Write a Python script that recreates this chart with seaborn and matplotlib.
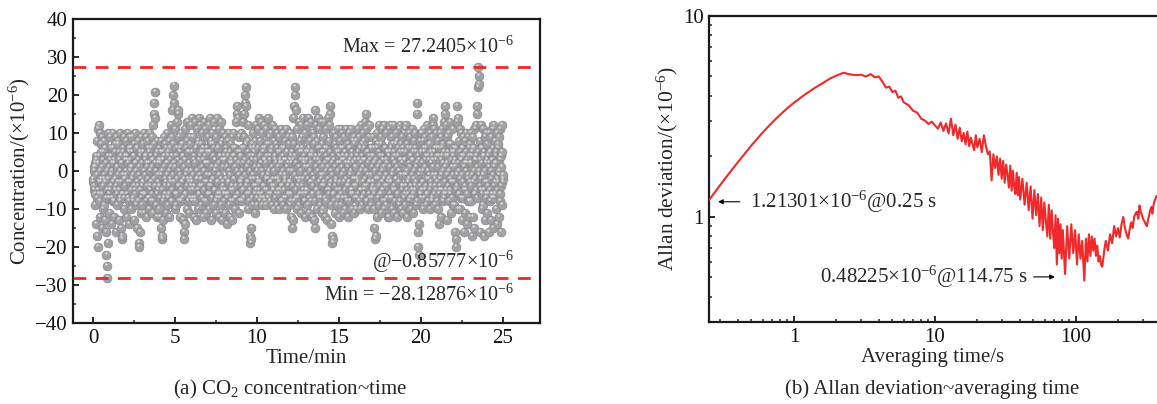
import numpy as np
import pandas as pd
import matplotlib
matplotlib.use("Agg")
import matplotlib.pyplot as plt
import seaborn as sns
from matplotlib.ticker import MultipleLocator, LogLocator, FuncFormatter, NullFormatter

# ---------------- data: panel (a) concentration vs time ----------------
# odd samples (wide swings) and even samples (core) for each minute
conc_rows_a = [
    [-3, 1, -5, 2, -9, 4, -14, 8, -17, -20, 11, 12, -6, 10, -12, 7, -3, 9, -15, 5, -10, 8, -2, -13, 6, -16, -22, -25, -28.12876, -19, 10, -7],
    [-11, 9, -4, 6, -14, 2, 10, -8, 3, -12, 7, -5, 9, -16, 1, -9, 8, -3, 5, -13, 10, -7, 2, -15, -18, -17, 6, -6, 9, -10, 4, -2],
    [8, -12, 3, 10, -7, 5, -14, 9, -3, 6, -10, 1, 9, -8, 4, -13, 7, -5, 10, -9, 2, -15, 6, -4, 8, -19, -20, -16, 5, -11, 9, -6],
    [-9, 7, -3, 10, -11, 4, -6, 9, -12, 2, 8, -7, 5, -10, 10, -4, 6, -8, 3, 9, -11, 12, 15, 18, 20.7, 14, -9, 4, -12, 8, -5, 2],
    [-10, 6, -12, 3, 8, -15, -18, -17, -13, 5, -7, 9, -4, 7, -11, 2, 10, -9, 4, -6, 8, -12, 6, -3, 12, 9, -8, 16, 20, 22.5, 18, -10],
    [11, -9, 4, 13, -6, 15, 16, -4, 9, -12, 6, -8, 10, -3, 7, -13, 4, -16, -18, -14, 11, -6, 8, -10, 13, -2, 5, -11, 9, -7, 12, -4],
    [-8, 14, -5, 9, -12, 3, 13, -7, 6, -13, 11, -2, 8, -10, 14, -6, 4, 12, -9, 7, -4, 10, -12, 5, 13, -8, 2, 11, -11, 6, -3, 9],
    [-6, 12, -10, 5, 14, -4, 8, -13, 10, -2, 7, -9, 13, -5, 3, -11, 9, -7, 14, -3, 6, -12, 11, -6, 4, -9, 13, -13, 8, -4, 10, -8],
    [3, -11, 9, -6, 5, -14, 8, -3, 10, -9, 2, -12, 7, -5, 9, -13, 4, -8, 10, -2, -10, 6, -7, 13, 15, 17, 14, -6, 9, -11, 5, -3],
    [-4, 10, -8, 6, 13, -5, 9, 15, 18, 20, 22, 17, -3, 8, -10, 12, -6, 4, -17, -19, -18, -15, 7, -9, 10, -2, 5, -11, 8, -4, 12, -7],
    [-9, 11, -3, 14, -6, 8, -8, 13, 2, -9, 10, -4, 6, 12, -7, 3, -5, 11, -9, 7, -2, 14, -6, 9, -8, 4, 10, -3, 6, -9, 12, -5],
    [8, -10, 3, 11, -6, 7, -9, 10, -2, 5, -10, 9, -5, 2, 11, -8, 6, -4, 10, -9, 3, -7, 8, -1, 11, -10, 5, -6, 9, -3, 7, -9],
    [10, -8, 4, -12, 9, -15, -13, 14, 17, 20, 22, 16, -7, 11, -10, 6, -4, 13, -9, 8, -2, 12, -11, 5, 9, -6, 14, -8, 3, -12, 10, -5],
    [-6, 12, -9, 5, 14, -11, 8, -3, 13, -8, 4, -12, 10, -6, 9, -13, -15, 16, 12, -5, 8, -10, 3, 14, -7, 11, -9, 6, -2, 13, -11, 7],
    [-10, 9, -4, 13, -12, 6, 11, -8, 3, -13, 14, -5, 8, 12, 15, 17, -9, -14, -17, -19, -18, 10, -6, 7, -11, 9, -3, 5, -9, 11, -7, 4],
    [-12, 8, -5, 11, -9, 3, 10, -11, 6, -3, 9, -10, 5, -7, 11, -4, 7, -12, 2, 10, -8, 6, -5, 11, -10, 4, 8, -6, 9, -11, 3, -2],
    [8, -10, 4, -7, 11, -3, 9, -8, 6, -10, 12, -5, 7, -9, 3, 10, -6, 8, -4, 13, 15, 11, -8, 5, -10, 9, -3, 12, -7, 6, -9, 4],
    [-7, 9, -4, 6, -10, -15, -18, -17, 8, -12, 10, -2, 7, -9, 12, -6, 4, -11, 9, -5, 11, -8, 3, -10, 12, -4, 6, -9, 10, -7, 5, -12],
    [11, -12, 5, -7, 12, -3, 9, -10, 7, -5, 12, -11, 4, -8, 10, -2, 8, -12, 6, -6, 11, -9, 3, 12, -10, 7, -4, 9, -11, 5, -7, 10],
    [-9, 11, -4, 12, -12, 7, -6, 10, -8, 4, 9, -10, 6, -5, 11, -7, 3, -11, 8, -4, 10, -9, 5, 15, 18, -16, -20, -22, -14, 8, -6, 10],
    [-7, 10, -3, 8, -10, 6, 11, -5, 9, -9, 4, -6, 12, -8, 7, -2, 10, -10, 5, -4, 9, -7, 3, 12, 14, 11, -9, 6, -5, 10, -8, 4],
    [-10, 8, -14, 6, 10, -5, 9, -12, 4, 11, -8, 7, -6, 13, 15, 17, 12, -5, 9, -13, 4, 10, -8, 13, -6, 7, -11, 5, -3, 11, -9, 6],
    [5, -9, -16, -20, -18, 13, 17, 14, -10, 8, -6, 11, -10, 3, 10, -13, 6, -7, 9, -16, 4, -11, 8, -5, 10, -14, 2, 9, -8, 6, -12, 7],
    [10, -8, 4, -17, 9, -12, 6, -15, 11, -6, 3, 12, 15, 17, 22, 27.2405, 25, 23, -16, 8, -5, 12, -10, 6, -9, 11, -17, 4, -13, 9, -6, 10],
    [-11, 7, -4, 10, -16, 5, -8, 9, -13, 3, -6, 11, -15, 12, -7, 2, 8, -10, 5, -14, 10, -3, 7, -12, 9, -6, 11, -16, 4, -9, 12, -2],
]
conc_rows_b = [
    [-2, 0, -4, 1, -6, 3, -1, -7, 2, -5, 4, -3, -8, 0, -2, 5, -6, 1, -4, 3, -9, -1, 6, -3, 2, -7, 0, -5, 4, -2, -6, 1],
    [3, -5, -1, 4, -7, 0, -3, 6, -8, 2, -2, 5, -4, -6, 1, -1, 7, -5, 3, -8, 0, 4, -3, -6, 2, -1, 5, -7, -2, 3, -4, 0],
    [-1, 4, -6, 2, -3, 6, -8, 0, 3, -5, 1, -2, 5, -7, -1, 4, -4, 2, -6, 0, 6, -3, -8, 3, -1, 1, -5, 4, -2, -7, 2, -4],
    [5, -3, 0, -6, 3, -1, -8, 4, -4, 1, -2, 6, -7, 2, -5, 0, 4, -3, -6, 1, 3, -8, 7, -2, -4, 2, 0, -6, 5, -1, -3, 3],
    [-4, 2, -7, 5, -1, 0, -5, 3, -8, 1, 4, -2, -6, 6, -3, -1, 2, -7, 5, 0, -4, 3, -2, -8, 1, 4, -5, 7, -1, -3, 2, -6],
    [1, -6, 6, -2, 3, -4, 0, -8, 5, -1, 2, -5, 7, -3, -7, 4, -2, 1, -6, 3, -1, 6, -4, 0, -8, 5, -3, 2, -5, 7, -2, 0],
    [-3, 5, -1, -7, 4, -4, 2, -8, 6, -2, 0, -5, 7, -6, 3, -1, -4, 5, -2, 1, -7, 3, 6, -5, 0, -3, 4, -8, 2, -1, 5, -6],
    [2, -4, 5, -1, -6, 7, -3, 1, -7, 4, -2, 6, -5, 0, 3, -8, 1, -3, 6, -6, 2, -1, 4, -7, 7, -2, -5, 3, -3, 1, -6, 4],
    [-5, 3, -2, 6, -7, 1, 4, -6, 0, -3, 5, -1, -8, 3, -4, 2, 6, -5, -2, 4, -7, 1, 3, -4, 0, 5, -6, 2, -1, -8, 4, -3],
    [4, -2, 0, -5, 2, -7, 6, -1, 3, -4, 7, -6, 1, -3, 5, -8, 2, 0, -5, 6, -2, 3, -7, 4, -1, -4, 6, -6, 1, 3, -5, 0],
    [-2, 6, -5, 1, -3, 4, -7, 2, 0, -6, 5, -1, 3, -4, -8, 6, -2, 2, -5, 4, -1, -7, 7, 0, -3, 3, -6, 5, -4, 1, -2, -5],
    [0, -4, 4, -7, 2, -2, 6, -5, 1, -3, -6, 3, 5, -1, -4, 2, -8, 4, 0, -5, 6, -2, -3, 3, -7, 1, 5, -4, 2, -6, 0, 3],
    [-3, 2, -6, 5, 0, -4, 3, -8, 7, -1, 4, -5, 2, -2, -7, 6, 1, -3, 5, -6, 0, 3, -4, 6, -2, -5, 2, 4, -8, 1, -1, 5],
    [3, -5, 1, -2, 6, -7, 0, 4, -3, 2, -6, 5, -1, -4, 7, -2, 3, -8, 1, 4, -5, 0, 6, -3, -6, 2, 4, -1, -7, 5, -4, 1],
    [-1, 5, -3, 2, -7, 4, 0, -5, 6, -2, 1, -6, 3, -4, 5, 0, -3, 2, -1, -6, 4, -8, 3, 1, -4, 6, -2, -5, 2, 0, -7, 5],
    [2, -3, 6, -6, 1, -1, 4, -7, 3, 0, -5, 5, -2, 2, -8, 4, -4, 1, 6, -3, -1, 3, -6, 0, 5, -5, 2, -2, 7, -4, 1, -7],
    [-4, 1, -2, 5, -6, 3, -1, 6, -5, 2, 0, -7, 4, -3, 1, -5, 6, -2, 3, -8, 0, 5, -4, 2, -1, 4, -6, 3, -3, 6, -1, -5],
    [1, -3, 4, -6, 2, 0, -5, 3, -2, 6, -7, 1, -4, 5, -1, 2, -6, 7, -3, 0, 4, -5, 1, -2, 6, -8, 3, -1, 2, -4, 5, -3],
    [-2, 4, -6, 1, -3, 6, -1, -7, 3, 0, -4, 5, -5, 2, -2, 7, -6, 1, 4, -3, 0, -8, 5, -1, 3, -5, 2, 6, -4, -1, 3, -6],
    [3, -1, 5, -5, 0, -3, 6, -2, 2, -7, 1, 4, -4, 3, -1, -6, 5, -2, 0, 6, -5, 1, -3, 2, -8, 4, -1, 3, -4, 0, 5, -6],
    [-5, 2, 0, -3, 5, -7, 3, 1, -4, 6, -2, -6, 4, 0, -1, 3, -5, 7, -3, 2, -8, 4, -1, 1, -6, 5, -2, -4, 3, -1, 6, -3],
    [1, -6, 4, -2, -4, 3, -1, 6, -5, 0, 2, -7, 5, -3, 1, 4, -6, 2, -1, 5, -4, 0, 7, -2, -5, 3, -3, 1, -7, 4, -1, 2],
    [-3, 3, 1, -5, 6, -1, -4, 2, 0, -6, 5, -2, 3, -7, 4, -1, -3, 6, -5, 1, 2, -4, 0, 5, -6, 3, -2, -1, 4, -8, 2, -3],
    [2, -4, -1, 5, -3, 6, -6, 0, 3, -2, -5, 4, 1, -7, 5, -1, 0, 3, -4, 6, -2, 2, -6, 4, -1, -5, 5, 0, -3, 2, -7, 3],
    [-3, 4, -6, 1, 2, -5, 5, -2, 0, -7, 3, -1, 6, -4, 1, -3, -6, 4, 2, -2, -5, 6, -1, 0, 3, -8, 4, -4, 1, 5, -3, -1],
]
concentration = []
for ra, rb in zip(conc_rows_a, conc_rows_b):
    for va, vb in zip(ra, rb):
        concentration.extend([va, vb])
duration_min = 25.0
conc_max = 27.2405
conc_min = -28.12876

# ---------------- data: panel (b) Allan deviation ----------------
tau_s = [0.25, 0.3, 0.35, 0.4, 0.5, 0.6, 0.7, 0.8, 0.9, 1.0, 1.2, 1.4, 1.6, 1.8, 2.0, 2.25,
         2.5, 2.75, 3.0, 3.25, 3.5, 3.75, 4.0, 4.25, 4.5, 4.75, 5.0, 5.25, 5.5, 5.75, 6.0, 6.5,
         7.0, 7.5, 8.0, 8.5, 9.0, 9.5, 10.0,
         10.5, 11, 11.5, 12, 12.5, 13, 13.5, 14, 14.5, 15, 15.5, 16, 16.5, 17, 17.5, 18, 18.5, 19, 19.5, 20,
         20.75, 21.5, 22.25, 23, 23.75, 24.5, 25.25, 26, 26.75, 27.5, 28.25, 29, 29.75, 30.5, 31.25, 32,
         32.75, 33.5, 34.25, 35, 35.75, 36.5, 37.25, 38, 38.75, 39.5, 40.25,
         41.75, 43.25, 44.75, 46.25, 47.75, 49.25, 50.75, 52.25, 53.75, 55.25, 56.75, 58.25, 59.75, 61.25,
         62.75, 64.25, 65.75, 67.25, 68.75, 70.25, 71.75, 73.25, 74.75, 76.25, 77.75, 79.25, 80.75,
         83.75, 86.75, 89.75, 92.75, 95.75, 98.75, 101.75, 104.75, 107.75, 110.75, 114.75, 117.75, 120.75,
         123.75, 126.75, 129.75, 132.75, 135.75, 138.75, 141.75, 144.75, 147.75, 150.75, 153.75, 156.75,
         159.75, 162.75,
         168.75, 174.75, 180.75, 186.75, 192.75, 198.75, 204.75, 210.75, 216.75, 222.75, 228.75, 234.75,
         240.75, 246.75, 252.75, 258.75, 264.75, 270.75, 276.75, 282.75, 288.75, 294.75, 300.75, 306.75,
         312.75, 318.75, 324.75, 330.75, 336.75, 342.75, 348.75, 354.75, 360.75, 366.75, 372.75]
allan_dev = [1.21301, 1.44, 1.66, 1.87, 2.27, 2.63, 2.95, 3.23, 3.48, 3.70, 4.07, 4.38, 4.63, 4.88, 5.05, 5.22,
             5.12, 5.08, 5.10, 5.00, 5.14, 4.95, 5.00, 4.70, 4.40, 4.45, 4.18, 4.25, 3.92, 3.98, 3.72, 3.60,
             3.38, 3.30, 3.08, 3.02, 2.90, 2.98, 2.86,
             2.75, 2.95, 2.68, 2.92, 2.60, 3.08, 2.55, 2.88, 2.45, 2.78, 2.38, 2.62, 2.30, 2.66, 2.25, 2.48, 2.30, 2.15, 2.55, 2.22,
             2.45, 2.10, 2.55, 2.25, 2.05, 2.12, 1.52, 2.05, 1.75, 2.00, 1.62, 1.95, 1.55, 1.90, 1.48, 1.82,
             1.62, 1.40, 1.80, 1.35, 1.70, 1.42, 1.30, 1.66, 1.28, 1.58, 1.22,
             1.55, 1.15, 1.48, 1.08, 1.42, 0.98, 1.36, 1.02, 1.30, 0.90, 1.25, 0.86, 1.18, 0.95,
             0.80, 1.15, 0.78, 1.08, 0.85, 0.70, 1.02, 0.58, 0.98, 0.66, 0.92, 0.62, 0.86,
             0.52, 0.90, 0.62, 0.92, 0.66, 0.86, 0.58, 0.82, 0.62, 0.76, 0.48225, 0.78, 0.60,
             0.82, 0.64, 0.80, 0.68, 0.78, 0.64, 0.72, 0.60, 0.64, 0.58, 0.566, 0.63,
             0.70, 0.76,
             0.68, 0.82, 0.74, 0.90, 0.80, 0.88, 0.79, 0.92, 1.00, 0.88, 0.82, 0.78,
             0.87, 0.94, 0.88, 1.00, 1.04, 1.06, 0.98, 1.14, 1.05, 1.02, 0.97, 0.95,
             0.92, 0.90, 0.97, 1.02, 1.08, 1.12, 1.04, 1.14, 1.20, 1.23, 1.27]

# ---------------- style ----------------
sns.set_theme(style="ticks")
plt.rcParams["font.family"] = ["Liberation Serif", "DejaVu Serif"]
plt.rcParams["mathtext.fontset"] = "custom"
plt.rcParams["mathtext.rm"] = "Liberation Serif"
plt.rcParams["mathtext.it"] = "Liberation Serif:italic"
plt.rcParams["mathtext.bf"] = "Liberation Serif:bold"
plt.rcParams["axes.unicode_minus"] = True

FS = 15
W, H = 1157, 404
fig = plt.figure(figsize=(W / 100, H / 100), dpi=100)

def fx(px):
    return px / W

def fy(py):
    return 1 - py / H

axA = fig.add_axes([fx(73), fy(323), fx(540 - 73), (323 - 19) / H])
axB = fig.add_axes([fx(709), fy(322), fx(1157 - 709), (322 - 16) / H])

# ---------------- panel (a) ----------------
n = len(concentration)
time_min = np.linspace(0, duration_min, n)
dfA = pd.DataFrame({"time": time_min, "conc": concentration})
sns.scatterplot(data=dfA, x="time", y="conc", ax=axA, s=40, color="#a2a2a4",
                edgecolor="#88888a", linewidth=0.5, zorder=3, legend=False)
axA.scatter(dfA["time"] - 0.05, dfA["conc"] + 0.55, s=3, color="#d9d9d9",
            linewidths=0, zorder=4)

for yv in (conc_max, conc_min):
    axA.axhline(yv, color="#ea2a24", lw=2.0, dashes=(4.6, 3.4), zorder=5)

axA.set_xlim(-1.22, 27.26)
axA.set_ylim(-40, 40)
axA.xaxis.set_major_locator(MultipleLocator(5))
axA.xaxis.set_minor_locator(MultipleLocator(2.5))
axA.yaxis.set_major_locator(MultipleLocator(10))
axA.yaxis.set_minor_locator(MultipleLocator(5))
axA.set_xlabel("Time/min", fontsize=FS, labelpad=1)
axA.set_ylabel(r"Concentration/($\times$10$^{-6}$)", fontsize=FS, labelpad=2)

axA.text(25.7, 32.6, r"Max = 27.2405$\times$10$^{-6}$", fontsize=14.5, ha="right", va="center")
axA.text(25.7, -23.9, r"@$-$0.85777$\times$10$^{-6}$", fontsize=14.5, ha="right", va="center")
axA.text(25.7, -32.6, r"Min = $-$28.12876$\times$10$^{-6}$", fontsize=14.5, ha="right", va="center")

# ---------------- panel (b) ----------------
dfB = pd.DataFrame({"tau": tau_s, "adev": allan_dev})
sns.lineplot(data=dfB, x="tau", y="adev", ax=axB, sort=False, estimator=None,
             color="#f02a2a", lw=1.5, zorder=3)
axB.set_xscale("log")
axB.set_yscale("log")
axB.set_xlim(0.25, 376)
axB.set_ylim(0.30, 10)
fmt = FuncFormatter(lambda v, p: f"{v:g}")
axB.xaxis.set_major_locator(LogLocator(base=10, numticks=10))
axB.xaxis.set_minor_locator(LogLocator(base=10, subs=np.arange(2, 10), numticks=10))
axB.yaxis.set_major_locator(LogLocator(base=10, numticks=10))
axB.yaxis.set_minor_locator(LogLocator(base=10, subs=np.arange(2, 10), numticks=10))
axB.xaxis.set_major_formatter(fmt)
axB.yaxis.set_major_formatter(fmt)
axB.xaxis.set_minor_formatter(NullFormatter())
axB.yaxis.set_minor_formatter(NullFormatter())
axB.set_xlabel("Averaging time/s", fontsize=FS, labelpad=1)
axB.set_ylabel(r"Allan deviation/($\times$10$^{-6}$)", fontsize=15.5, labelpad=2)
axB.spines["right"].set_visible(False)

axB.annotate(r"1.21301$\times$10$^{-6}$@0.25 s", xy=(0.29, 1.19), xytext=(0.489, 1.19),
             fontsize=FS, ha="left", va="center",
             arrowprops=dict(arrowstyle="-|>", color="black", lw=0.8, mutation_scale=7,
                             shrinkA=5, shrinkB=0))
axB.annotate(r"0.48225$\times$10$^{-6}$@114.75 s", xy=(71, 0.503), xytext=(45.5, 0.503),
             fontsize=FS, ha="right", va="center",
             arrowprops=dict(arrowstyle="-|>", color="black", lw=0.8, mutation_scale=7,
                             shrinkA=2, shrinkB=0))

# ---------------- common axis styling ----------------
for ax in (axA, axB):
    for sp in ax.spines.values():
        sp.set_linewidth(1.6)
        sp.set_color("#1a1a1a")
    ax.tick_params(which="major", direction="in", length=4, width=1.3, labelsize=FS,
                   colors="#1a1a1a", top=False, right=False, pad=4)
    ax.tick_params(which="minor", direction="in", length=2.5, width=1.1,
                   top=False, right=False)
    ax.tick_params(axis="both", labelcolor="#111111")
    ax.grid(False)

fig.text(fx(290), fy(389), r"(a) CO$_2$ concentration~time", fontsize=FS, ha="center", va="center")
fig.text(fx(932), fy(389), "(b) Allan deviation~averaging time", fontsize=FS, ha="center", va="center")

fig.savefig("out.png", dpi=100)
